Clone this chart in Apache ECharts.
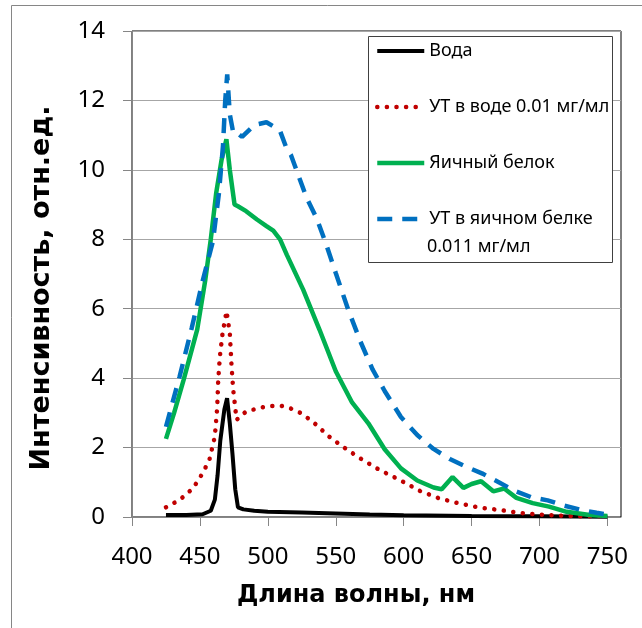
<!DOCTYPE html>
<html>
<head>
<meta charset="utf-8">
<script src="https://cdn.jsdelivr.net/npm/echarts@6/dist/echarts.min.js"></script>
<style>
  html, body { margin: 0; padding: 0; background: #fff; }
  #chart { width: 642px; height: 628px; }
</style>
</head>
<body>
<div id="chart"></div>
<script>
// подписи оси X (нм) и Y
const xTicks = [400, 450, 500, 550, 600, 650, 700, 750];
const yTicks = [0, 2, 4, 6, 8, 10, 12, 14];

const seriesNames = ["Вода", "УТ в воде 0.01 мг/мл", "Яичный белок", "УТ в яичном белке 0.011 мг/мл"];

// Вода
const waterX = [425, 440, 452, 458, 461, 463, 465, 468, 470, 472, 474, 476, 478, 482, 490, 500, 525, 550, 575, 600, 650, 700, 750];
const waterY = [0.06, 0.06, 0.08, 0.18, 0.5, 1.2, 2.2, 3.1, 3.42, 2.7, 1.8, 0.8, 0.28, 0.22, 0.18, 0.15, 0.13, 0.1, 0.07, 0.05, 0.03, 0.02, 0.01];

// УТ в воде 0.01 мг/мл
const utWaterX = [425, 435, 445, 452, 457, 461, 462.7, 463.5, 464.7, 466.7, 469.6, 472, 473.3, 474.5, 477, 484, 494, 501, 510, 516, 524, 533, 545, 555, 568, 582, 597, 612, 626, 641, 656, 671, 685, 700, 720, 735, 750];
const utWaterY = [0.28, 0.49, 0.83, 1.26, 1.65, 2.32, 3.14, 3.95, 4.63, 5.3, 5.93, 5.3, 4.34, 3.67, 2.8, 3.04, 3.14, 3.2, 3.2, 3.14, 3.0, 2.75, 2.32, 2.03, 1.69, 1.36, 1.07, 0.75, 0.54, 0.39, 0.27, 0.2, 0.12, 0.07, 0.03, 0.02, 0.03];

// Яичный белок
const eggX = [425, 431, 438, 448, 454, 458, 462, 466, 469.5, 472, 475.5, 478, 484, 492, 499, 504, 509, 514, 526, 538, 550, 562, 574, 586, 598, 610, 622, 628, 636, 644, 650, 657, 666, 674, 683, 695, 707, 720, 737, 750];
const eggY = [2.25, 3.0, 3.95, 5.4, 6.84, 8.0, 9.34, 10.3, 10.88, 10.0, 9.0, 8.95, 8.81, 8.57, 8.38, 8.25, 8.0, 7.55, 6.55, 5.4, 4.2, 3.3, 2.7, 1.95, 1.4, 1.05, 0.85, 0.8, 1.15, 0.84, 0.95, 1.03, 0.74, 0.82, 0.55, 0.4, 0.3, 0.15, 0.06, 0.03];

// УТ в яичном белке 0.011 мг/мл
const utEggX = [425, 435, 444, 452, 459.6, 464, 467, 468.6, 470.1, 472, 474.6, 477, 481, 490, 499, 505, 509, 514, 517, 521, 528.5, 536, 543, 550, 559, 568, 577, 586, 598, 610, 622, 634, 646, 658, 670, 682, 694, 706, 718, 730, 742, 750];
const utEggY = [2.6, 4.04, 5.45, 6.8, 7.95, 9.33, 10.7, 11.98, 12.75, 11.6, 11.06, 11.08, 10.95, 11.29, 11.37, 11.23, 11.12, 10.6, 10.43, 10.0, 9.2, 8.6, 7.85, 7.03, 5.99, 5.07, 4.26, 3.63, 2.88, 2.36, 1.96, 1.67, 1.45, 1.25, 1.0, 0.75, 0.57, 0.48, 0.33, 0.21, 0.12, 0.07];

function pairs(xs, ys) {
    return xs.map((x, i) => [x, ys[i]]);
}

const labelFont = "Noto Sans";
const titleFont = "DejaVu Sans";

const chart = echarts.init(document.getElementById("chart"), null, { renderer: "canvas" });

const option = {
    animation: false,
    backgroundColor: "#fff",
    grid: {
        left: 132, right: 21, top: 31, bottom: 111,
        show: true, borderColor: "#000", borderWidth: 1, backgroundColor: "transparent"
    },
    xAxis: {
        type: "value",
        min: 400, max: 760, interval: 50,
        axisLine: { show: true, lineStyle: { color: "#868686", width: 1 } },
        axisTick: { show: true, inside: false, length: 9, customValues: xTicks, lineStyle: { color: "#868686" } },
        axisLabel: { customValues: xTicks, margin: 28, fontSize: 24, fontFamily: labelFont, color: "#000" },
        splitLine: { show: false }
    },
    yAxis: {
        type: "value",
        min: 0, max: 14, interval: 2,
        axisLine: { show: true, lineStyle: { color: "#868686", width: 1 } },
        axisTick: { show: true, inside: false, length: 9, lineStyle: { color: "#868686" } },
        axisLabel: { margin: 27, fontSize: 24, fontFamily: labelFont, color: "#000" },
        splitLine: { show: true, lineStyle: { color: "#a6a6a6", width: 1 } }
    },
    legend: {
        orient: "vertical",
        left: 375, top: 41,
        padding: 0,
        itemWidth: 47, itemHeight: 14, itemGap: 36,
        data: seriesNames,
        formatter: name => name === seriesNames[3] ? "УТ в яичном белке" : name,
        lineStyle: { width: "inherit" },
        // без кружков — только линия
        itemStyle: { color: "rgba(0,0,0,0)", borderWidth: 0, opacity: 0 },
        textStyle: { fontFamily: labelFont, fontSize: 18, lineHeight: 20, color: "#000" },
        z: 5
    },
    graphic: [
        // рамка всей диаграммы
        { type: "rect", shape: { x: 11.5, y: 5.5, width: 700, height: 700 },
          style: { fill: null, stroke: "#868686", lineWidth: 1 }, silent: true, z: 1 },
        // рамка легенды
        { type: "rect", shape: { x: 368.5, y: 36.5, width: 244, height: 226 },
          style: { fill: "#fff", stroke: "#404040", lineWidth: 1 }, silent: true, z: 3 },
        { type: "text", left: 427, top: 238,
          style: { text: "0.011 мг/мл", fontFamily: labelFont, fontSize: 18, fill: "#000" }, z: 5 },
        // подписи осей
        { type: "text", x: 356, y: 596,
          style: { text: "Длина волны, нм", fontFamily: titleFont, fontWeight: "bold", fontSize: 24,
                   fill: "#000", align: "center", verticalAlign: "middle" }, z: 5 },
        { type: "text", x: 42, y: 288, rotation: Math.PI / 2,
          style: { text: "Интенсивность, отн.ед.", fontFamily: titleFont, fontWeight: "bold", fontSize: 27,
                   fill: "#000", align: "center", verticalAlign: "middle" }, z: 5 }
    ],
    series: [
        {
            name: seriesNames[0], type: "line", data: pairs(waterX, waterY),
            symbol: "none", showSymbol: false,
            lineStyle: { color: "#000000", width: 4 }, itemStyle: { color: "#000000" }
        },
        {
            name: seriesNames[1], type: "line", data: pairs(utWaterX, utWaterY),
            symbol: "none", showSymbol: false,
            lineStyle: { color: "#c00000", width: 4.5, type: [0.1, 9.5], cap: "round" },
            itemStyle: { color: "#c00000" }
        },
        {
            name: seriesNames[2], type: "line", data: pairs(eggX, eggY),
            symbol: "none", showSymbol: false,
            lineStyle: { color: "#00b050", width: 4.5 }, itemStyle: { color: "#00b050" }
        },
        {
            name: seriesNames[3], type: "line", data: pairs(utEggX, utEggY),
            symbol: "none", showSymbol: false,
            lineStyle: { color: "#0070c0", width: 4.5, type: [15, 10] }, itemStyle: { color: "#0070c0" }
        }
    ]
};

chart.setOption(option);
</script>
</body>
</html>
